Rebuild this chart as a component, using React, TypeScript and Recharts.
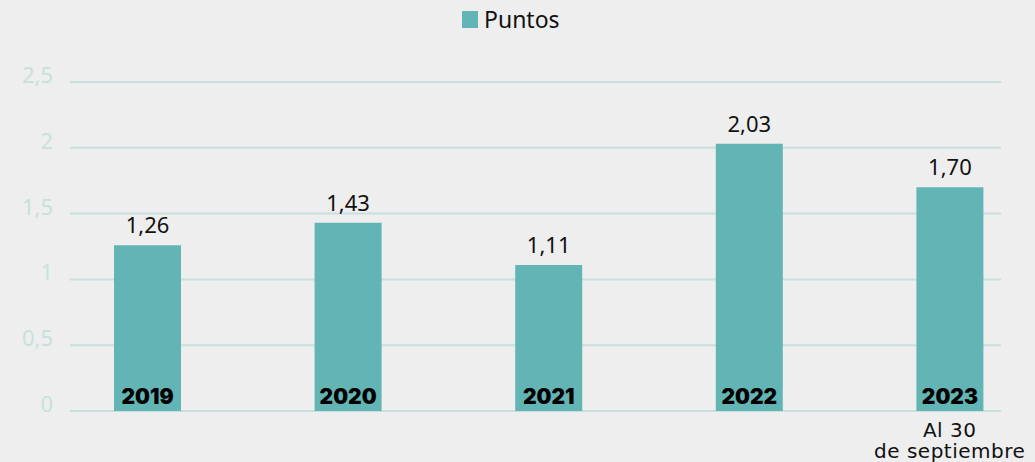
import { BarChart, Bar, XAxis, YAxis, CartesianGrid, Legend, LabelList } from 'recharts';

const years = ['2019', '2020', '2021', '2022', '2023'];
const puntos = [1.26, 1.43, 1.11, 2.03, 1.7];
const notes: string[][] = [[], [], [], [], ['Al 30', 'de septiembre']];
const yTicks = [0, 0.5, 1, 1.5, 2, 2.5];

const data = years.map((year, i) => ({ year, puntos: puntos[i], note: notes[i] }));

const BAR = '#63b4b4';
const GRID = '#c8e0dd';
const FONT = '"Noto Sans", sans-serif';

const fmt = (v: number, digits?: number) =>
  (digits != null ? v.toFixed(digits) : String(v)).replace('.', ',');

const YTick = ({ x, y, payload }: any) => (
  <text x={x + 6} y={y + 1} textAnchor="end" fill={GRID} fontSize={22} fontFamily={FONT}>
    {fmt(payload.value)}
  </text>
);

// only the last bar carries a note under the axis
const XTick = ({ x, y, index }: any) => {
  const lines = notes[index] || [];
  return (
    <g>
      {lines.map((l, i) => (
        <text
          key={i}
          x={x}
          y={y + 26 + i * 21}
          textAnchor="middle"
          fill="#111"
          fontSize={20}
          letterSpacing={0.5}
          fontFamily='"DejaVu Sans", sans-serif'
        >
          {l}
        </text>
      ))}
    </g>
  );
};

const renderLegend = () => (
  <div style={{ display: 'flex', alignItems: 'center', gap: 6, fontFamily: FONT, fontSize: 23, color: '#111' }}>
    <span style={{ display: 'inline-block', width: 16, height: 17, background: BAR }} />
    Puntos
  </div>
);

export default function App() {
  return (
    <div style={{ position: 'absolute', left: 0, top: 0, width: 1035, height: 462, background: '#eeeeee' }}>
      <BarChart width={1035} height={462} data={data} margin={{ top: 82, right: -15, bottom: 0, left: 0 }}>
        <CartesianGrid vertical={false} stroke={GRID} strokeWidth={2} x={70} width={931} />
        <Legend
          layout="horizontal"
          verticalAlign="middle"
          align="center"
          wrapperStyle={{ top: 3, left: 462 }}
          content={renderLegend}
        />
        <XAxis
          dataKey="year"
          axisLine={false}
          tickLine={false}
          tickSize={0}
          tickMargin={0}
          height={51}
          interval={0}
          tick={<XTick />}
        />
        <YAxis
          domain={[0, 2.5]}
          ticks={yTicks}
          width={47}
          axisLine={false}
          tickLine={false}
          tickSize={0}
          tickMargin={0}
          tick={<YTick />}
        />
        <Bar dataKey="puntos" fill={BAR} barSize={67} isAnimationActive={false}>
          <LabelList
            dataKey="puntos"
            position="top"
            offset={12}
            formatter={(v: any) => fmt(Number(v), 2)}
            fill="#111"
            fontSize={22}
            fontFamily={FONT}
          />
          <LabelList
            dataKey="year"
            position="insideBottom"
            offset={7}
            fill="#000"
            fontSize={21}
            fontWeight={900}
            fontFamily='Inter, "Noto Sans", sans-serif'
          />
        </Bar>
      </BarChart>
    </div>
  );
}
